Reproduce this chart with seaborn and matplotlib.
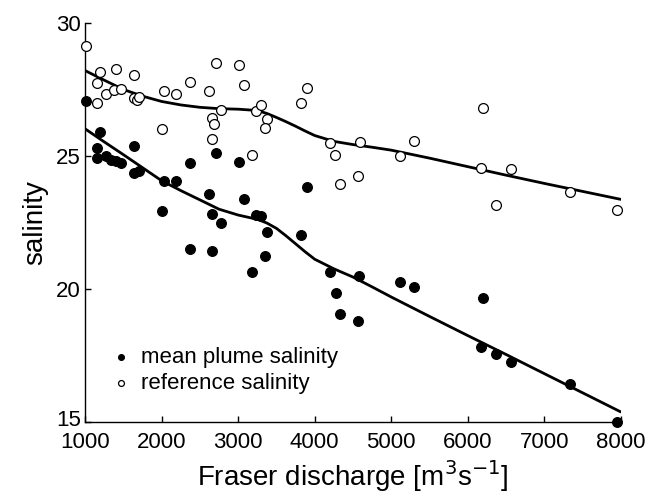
import pandas as pd
import seaborn as sns
import matplotlib.pyplot as plt
from matplotlib.transforms import ScaledTranslation

# mean plume salinity (filled dots)
plume_q = [1013, 1200, 1161, 1161, 1279, 1340, 1400, 1466, 1632, 1641,
           1710, 2028, 2010, 2185, 2373, 2617, 2664, 2773, 2712, 3017,
           3078, 3235, 3301, 3379, 3815, 3902, 2368, 2664, 3187, 3353,
           4203, 4272, 4337, 4565, 4573, 5118, 5296, 6203, 6173, 6364,
           6560, 7331, 7950]
plume_s = [27.08, 25.90, 25.31, 24.92, 25.01, 24.85, 24.80, 24.75, 25.36, 24.37,
           24.42, 24.05, 22.92, 24.06, 24.75, 23.56, 22.81, 22.48, 25.11, 24.77,
           23.38, 22.77, 22.74, 22.14, 22.03, 23.83, 21.49, 21.44, 20.65, 21.24,
           20.63, 19.84, 19.07, 18.79, 20.49, 20.27, 20.06, 19.65, 17.82, 17.55,
           17.27, 16.43, 15.01]

# reference salinity (open circles)
ref_q = [1013, 1200, 1161, 1161, 1279, 1401, 1383, 1466, 1632, 1640,
         1680, 1710, 2010, 2028, 2185, 2373, 2617, 2664, 2682, 2664,
         2712, 2773, 3017, 3078, 3187, 3235, 3301, 3379, 3349, 3815,
         3902, 4203, 4264, 4333, 4560, 4590, 5118, 5296, 6203, 6173,
         6364, 6560, 7331, 7950]
ref_s = [29.14, 28.15, 27.73, 27.00, 27.32, 28.27, 27.48, 27.52, 28.03, 27.17,
         27.10, 27.23, 26.02, 27.45, 27.33, 27.79, 27.43, 26.42, 26.19, 25.64,
         28.48, 26.72, 28.43, 27.66, 25.05, 26.68, 26.93, 26.40, 26.06, 27.00,
         27.57, 25.50, 25.03, 23.96, 24.26, 25.54, 24.99, 25.55, 26.82, 24.56,
         23.16, 24.51, 23.64, 22.97]

# smoothed fits
fit_q = [1000, 1250, 1500, 1750, 2000, 2250, 2500, 2750, 3000, 3250, 3375, 3500, 3625, 3750,
         3875, 4000, 4250, 4500, 4750, 5000, 5500, 6000, 6500, 7000, 7500, 8000]
fit_ref = [28.21, 27.85, 27.50, 27.25, 27.05, 26.92, 26.83, 26.78, 26.76, 26.71, 26.60, 26.45, 26.29, 26.12,
           25.94, 25.77, 25.55, 25.43, 25.33, 25.22, 24.92, 24.60, 24.28, 23.97, 23.67, 23.37]
fit_plume = [26.02, 25.53, 25.05, 24.56, 24.07, 23.70, 23.35, 23.00, 22.78, 22.62, 22.48, 22.28, 22.00, 21.70,
             21.40, 21.12, 20.76, 20.45, 20.08, 19.70, 18.97, 18.25, 17.54, 16.82, 16.10, 15.38]

plume = pd.DataFrame({'q': plume_q, 's': plume_s})
ref = pd.DataFrame({'q': ref_q, 's': ref_s})
fits = pd.DataFrame({'q': fit_q, 'ref': fit_ref, 'plume': fit_plume})

sns.set_style('ticks')
plt.rcParams['font.family'] = ['Liberation Sans', 'DejaVu Sans']
plt.rcParams['text.color'] = 'black'
plt.rcParams['axes.labelcolor'] = 'black'

fig = plt.figure(figsize=(6.5, 5), dpi=100)
ax = fig.add_axes([0.131, 0.156, 0.824, 0.798])

sns.lineplot(data=fits, x='q', y='ref', color='black', lw=2, ax=ax)
sns.lineplot(data=fits, x='q', y='plume', color='black', lw=2, ax=ax)
sns.scatterplot(data=plume, x='q', y='s', color='black', edgecolor='black', s=50,
                linewidth=0.8, clip_on=False, zorder=3, ax=ax, label='mean plume salinity')
sns.scatterplot(data=ref, x='q', y='s', color='white', edgecolor='black', s=50,
                linewidth=0.9, clip_on=False, zorder=3, ax=ax, label='reference salinity')

ax.set_xlim(1000, 8000)
ax.set_ylim(15, 30)
ax.set_xticks(range(1000, 8001, 1000))
ax.set_yticks([15, 20, 25, 30])
ax.tick_params(direction='in', length=4, width=1, labelsize=16, colors='black')
ax.tick_params(axis='x', pad=7)
ax.tick_params(axis='y', pad=3)
# nudge the lowest y label up a few pixels so it clears the 1000 label
lab15 = ax.get_yticklabels()[0]
lab15.set_transform(lab15.get_transform() + ScaledTranslation(0, 3 / 72, fig.dpi_scale_trans))
for sp in ['left', 'bottom']:
    ax.spines[sp].set_color('black')
    ax.spines[sp].set_linewidth(1)
sns.despine(ax=ax)

ax.set_xlabel('Fraser discharge [m$^3$s$^{-1}$]', fontsize=20, labelpad=4)
ax.set_ylabel('salinity', fontsize=20, labelpad=6)

ax.legend(loc='lower left', bbox_to_anchor=(0.05, 0.07), frameon=False, fontsize=16,
          markerscale=0.6, handlelength=0.8, handletextpad=0.5, borderpad=0,
          borderaxespad=0, labelspacing=0.25)

fig.savefig('out.png', dpi=100)
